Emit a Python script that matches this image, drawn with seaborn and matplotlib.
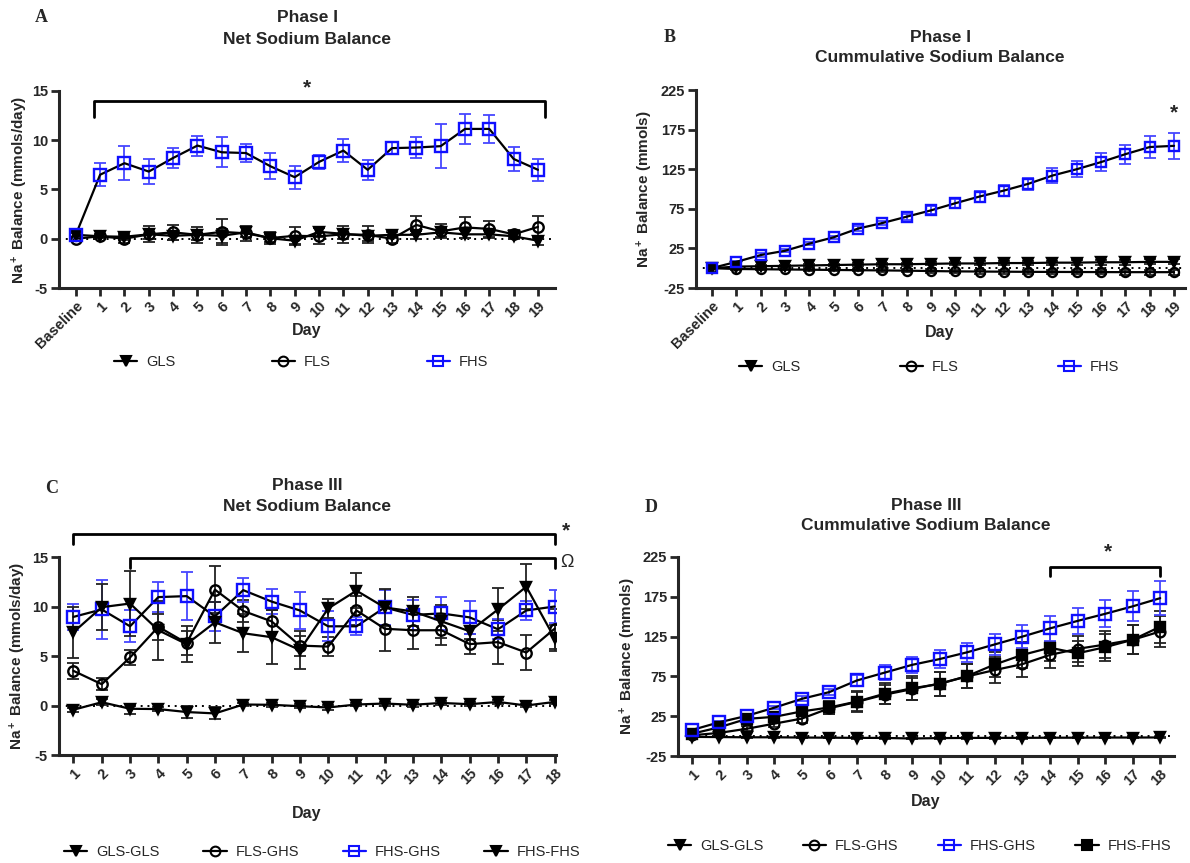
import numpy as np
import pandas as pd
import seaborn as sns
import matplotlib
matplotlib.use("Agg")
import matplotlib.pyplot as plt
from matplotlib.lines import Line2D

# ---------------- data ----------------
labels_p1 = ["Baseline"] + [str(i) for i in range(1, 20)]
labels_p3 = [str(i) for i in range(1, 19)]

# Panel A: Phase I net sodium balance (mmols/day)
a_gls = [0.4, 0.25, 0.2, 0.45, 0.3, 0.4, 0.3, 0.65, 0.05, -0.2, 0.7, 0.5, 0.3, 0.4, 0.4, 0.65, 0.45, 0.45, 0.25, -0.2]
a_gls_err = [0.2, 0.2, 0.3, 0.5, 0.4, 0.5, 0.7, 0.5, 0.4, 0.4, 0.5, 0.5, 0.5, 0.3, 0.4, 0.5, 0.4, 0.4, 0.3, 0.4]
a_fls = [0.0, 0.25, 0.0, 0.45, 0.65, 0.4, 0.7, 0.55, 0.07, 0.3, 0.25, 0.45, 0.4, 0.0, 1.4, 0.75, 1.15, 1.0, 0.45, 1.2]
a_fls_err = [0.2, 0.2, 0.4, 0.8, 0.75, 0.8, 1.3, 0.75, 0.6, 0.85, 0.8, 0.85, 0.85, 0.4, 0.9, 0.7, 1.05, 0.85, 0.4, 1.15]
a_fhs = [0.4, 6.5, 7.67, 6.82, 8.2, 9.46, 8.78, 8.7, 7.36, 6.25, 7.8, 8.95, 7.0, 9.2, 9.26, 9.4, 11.15, 11.15, 8.1, 7.0]
a_fhs_err = [0.3, 1.17, 1.73, 1.25, 1.06, 1.01, 1.52, 0.9, 1.32, 1.15, 0.7, 1.18, 1.0, 0.63, 1.1, 2.2, 1.55, 1.45, 1.2, 1.14]

# Panel B: Phase I cumulative sodium balance (mmols)
b_gls = [0, 2, 2.5, 3, 3.5, 4, 4.5, 5, 5, 5.5, 6, 6, 6.5, 6.5, 7, 7, 7.5, 7.5, 8, 8]
b_gls_err = [0.5, 1, 1, 1, 1.5, 1.5, 1.5, 2, 2, 2, 2, 2.5, 2.5, 2.5, 2.5, 3, 3, 3, 3, 3]
b_fls = [0, -1, -1.3, -1.6, -1.9, -2.2, -2.5, -2.8, -3.1, -3.6, -4, -4.2, -4.4, -4.6, -4.7, -4.8, -4.9, -5, -5, -5]
b_fls_err = [0.5, 1, 1, 1, 1.5, 1.5, 1.5, 2, 2, 2, 2, 2.5, 2.5, 2.5, 2.5, 3, 3, 3, 3, 3]
b_fhs = [0.2, 8, 16.6, 22, 31, 39, 50, 57, 65, 73, 82, 90.5, 98, 106.5, 117, 125, 134, 144, 153, 154.5]
b_fhs_err = [0.5, 1, 2, 2, 2, 2, 3, 3, 4, 5, 6, 7, 7, 8, 9, 10, 11, 12, 14, 16]

# Panel C: Phase III net sodium balance (mmols/day)
c_glsgls = [-0.43, 0.33, -0.33, -0.36, -0.66, -0.8, 0.1, 0.07, -0.07, -0.2, 0.1, 0.2, 0.07, 0.26, 0.13, 0.36, 0.0, 0.36]
c_glsgls_err = [0.2, 0.3, 0.5, 0.2, 0.6, 0.6, 0.2, 0.2, 0.2, 0.3, 0.2, 0.2, 0.2, 0.2, 0.2, 0.2, 0.2, 0.2]
c_flsghs = [3.5, 2.15, 4.85, 7.95, 6.3, 11.7, 9.55, 8.5, 6.05, 5.95, 9.6, 7.75, 7.6, 7.6, 6.2, 6.4, 5.35, 7.75]
c_flsghs_err = [0.8, 0.6, 0.8, 1.3, 1.2, 2.4, 1.1, 1.1, 1.0, 1.0, 1.5, 2.2, 1.9, 1.5, 1.0, 2.2, 1.8, 2.0]
c_fhsghs = [8.95, 9.7, 8.0, 10.95, 11.05, 9.0, 11.65, 10.5, 9.6, 8.0, 8.0, 9.9, 9.15, 9.3, 8.9, 7.7, 9.6, 10.0]
c_fhsghs_err = [1.3, 3.0, 1.6, 1.5, 2.4, 1.5, 1.2, 1.3, 1.9, 1.5, 0.9, 1.8, 1.5, 1.7, 1.7, 1.0, 1.0, 1.7]
c_fhsfhs = [7.4, 9.93, 10.3, 7.6, 6.2, 8.4, 7.3, 6.9, 5.6, 9.8, 11.6, 9.9, 9.5, 8.5, 7.5, 9.7, 12.0, 6.8]
c_fhsfhs_err = [2.6, 2.3, 3.3, 3.0, 1.8, 2.1, 1.9, 2.7, 1.9, 1.0, 1.8, 1.9, 1.5, 1.7, 0.8, 2.2, 2.3, 1.3]

# Panel D: Phase III cumulative sodium balance (mmols)
d_glsgls = [-1, -1.2, -1.5, -1.5, -1.8, -2, -2.2, -2.3, -3, -2.5, -2.3, -2.2, -2.2, -2.0, -2.0, -1.8, -1.8, -1.7]
d_glsgls_err = [0.5, 0.5, 0.8, 0.8, 1, 1, 1, 1, 1, 1, 1, 1, 1, 1, 1, 1, 1, 1]
d_flsghs = [1, 4, 9.2, 15.6, 22, 35, 43, 52, 59, 66, 75, 83, 90.4, 102, 109.6, 115, 121, 131.4]
d_flsghs_err = [1, 2, 3, 4, 5, 7, 12, 12, 14, 15, 15, 16, 16, 16, 16, 17, 18, 20]
d_fhsghs = [7.5, 17.3, 25.4, 35.7, 46.8, 55.3, 69.9, 79.7, 89.5, 96.8, 105.3, 115.2, 125, 135.3, 144.7, 153.6, 163, 173.3]
d_fhsghs_err = [1, 2, 2, 2, 3, 4, 7, 9, 10, 11, 12, 13, 14.5, 16, 16, 17, 19, 21]
d_fhsfhs = [2.8, 11, 21.6, 24.2, 31, 36, 43.4, 53.2, 60, 65.6, 75.4, 90, 102, 111, 104, 111.7, 121, 137.4]
d_fhsfhs_err = [1, 2, 3, 4, 5, 8, 13, 13, 15, 15, 15, 16, 16, 17, 16, 17, 18, 20]

# ---------------- style ----------------
sns.set_style("ticks")
plt.rcParams["font.family"] = ["Liberation Sans", "DejaVu Sans"]
plt.rcParams["mathtext.fontset"] = "custom"
plt.rcParams["mathtext.rm"] = "Liberation Sans:bold"
plt.rcParams["mathtext.it"] = "Liberation Sans:bold"
plt.rcParams["mathtext.bf"] = "Liberation Sans:bold"

BLUE = "#1010ff"
EBLUE = "#4646ff"
W, H = 1190, 863
fig = plt.figure(figsize=(W / 100, H / 100), dpi=100)


def px_axes(l, t, r, b):
    return fig.add_axes([l / W, 1 - b / H, (r - l) / W, (b - t) / H])


def ftext(x, y, s, **kw):
    fig.text(x / W, 1 - y / H, s, **kw)


def series(ax, x, y, err, marker, filled, color, ms, ecolor):
    ax.errorbar(x, y, yerr=err, fmt="none", ecolor=ecolor, elinewidth=1.3,
                capsize=4, capthick=1.3, zorder=2)
    df = pd.DataFrame({"x": x, "y": y})
    sns.lineplot(data=df, x="x", y="y", ax=ax, color="black", lw=1.6,
                 marker=marker, markersize=ms,
                 markerfacecolor=color if filled else "none",
                 markeredgecolor=color, markeredgewidth=1.7,
                 errorbar=None, legend=False, zorder=3)


def style_axes(ax, xticks, xlabels, yticks, xlim, ylim):
    ax.set_xlim(*xlim)
    ax.set_ylim(*ylim)
    ax.set_xticks(xticks)
    ax.set_xticklabels(xlabels)
    ax.set_yticks(yticks)
    ax.set_yticklabels([str(v) for v in yticks])
    for s in ["top", "right"]:
        ax.spines[s].set_visible(False)
    for s in ["left", "bottom"]:
        ax.spines[s].set_linewidth(2.2)
    ax.tick_params(width=2, length=6, labelsize=10.5, pad=2)
    for lab in ax.get_xticklabels():
        lab.set_rotation(45)
        lab.set_ha("right")
        lab.set_rotation_mode("anchor")
        lab.set_fontweight("bold")
    for lab in ax.get_yticklabels():
        lab.set_fontweight("bold")
    ax.set_xlabel("")
    ax.set_ylabel("")
    ax.axhline(0, color="black", ls=(0, (1, 2.5)), lw=1.4, zorder=1)


def legend(handles, labels, x, y, cs):
    fig.legend(handles, labels, loc="center left", bbox_to_anchor=(x / W, 1 - y / H),
               ncol=len(labels), frameon=False, borderpad=0, borderaxespad=0,
               handlelength=1.6, handletextpad=0.6, columnspacing=cs,
               prop={"size": 10.5})


def h(marker, filled, color, ms, lcolor="black"):
    return Line2D([0], [0], color=lcolor, lw=1.6, marker=marker, markersize=ms,
                  markerfacecolor=color if filled else "none",
                  markeredgecolor=color, markeredgewidth=1.5)


TB = dict(fontsize=12.5, fontweight="bold", ha="center", va="center")
LET = dict(fontsize=13, fontweight="bold", family=["Liberation Serif", "DejaVu Serif"],
           ha="center", va="center")
YL = dict(fontsize=11, fontweight="bold", rotation=90, ha="center", va="center")
XL = dict(fontsize=11.5, fontweight="bold", ha="center", va="center")

x1 = np.arange(20)
x3 = np.arange(1, 19)

# ---------------- Panel A ----------------
axA = px_axes(59, 91, 555, 288)
series(axA, x1, a_gls, a_gls_err, "v", True, "black", 7.5, "#222222")
series(axA, x1, a_fls, a_fls_err, "o", False, "black", 7.5, "#222222")
series(axA, x1, a_fhs, a_fhs_err, "s", False, BLUE, 8.5, EBLUE)
style_axes(axA, x1, labels_p1, [-5, 0, 5, 10, 15], (-0.69, 19.7), (-5, 15))
axA.plot([0.74, 0.74, 19.29, 19.29], [12.4, 14.0, 14.0, 12.4], color="black", lw=2, clip_on=False)
axA.text(9.5, 15.3, "*", fontsize=15, fontweight="bold", ha="center", va="center")
ftext(41, 18, "A", **LET)
ftext(307, 18, "Phase I", **TB)
ftext(307, 40, "Net Sodium Balance", **TB)
ftext(20, 190, r"Na$^+$ Balance (mmols/day)", **YL)
ftext(307, 330, "Day", **XL)
legend([h("v", True, "black", 7), h("o", False, "black", 7), h("s", False, BLUE, 7, BLUE)],
       ["GLS", "FLS", "FHS"], 114, 362, 6.6)

# ---------------- Panel B ----------------
axB = px_axes(696, 90, 1185, 288)
series(axB, x1, b_gls, b_gls_err, "v", True, "black", 7, "#222222")
series(axB, x1, b_fls, b_fls_err, "o", False, "black", 6.5, "#222222")
series(axB, x1, b_fhs, b_fhs_err, "s", False, BLUE, 7.5, EBLUE)
style_axes(axB, x1, labels_p1, [-25, 25, 75, 125, 175, 225], (-0.66, 19.45), (-25, 225))
axB.text(19, 196, "*", fontsize=15, fontweight="bold", ha="center", va="center")
ftext(670, 38, "B", **LET)
ftext(940, 37, "Phase I", **TB)
ftext(940, 58, "Cummulative Sodium Balance", **TB)
ftext(645, 189, r"Na$^+$ Balance (mmols)", **YL)
ftext(940, 332, "Day", **XL)
legend([h("v", True, "black", 7), h("o", False, "black", 7), h("s", False, BLUE, 7, BLUE)],
       ["GLS", "FLS", "FHS"], 739, 367, 6.8)

# ---------------- Panel C ----------------
axC = px_axes(59, 557, 556, 755)
series(axC, x3, c_glsgls, c_glsgls_err, "v", True, "black", 7, "#222222")
series(axC, x3, c_flsghs, c_flsghs_err, "o", False, "black", 7.5, "#222222")
series(axC, x3, c_fhsghs, c_fhsghs_err, "s", False, BLUE, 8, EBLUE)
series(axC, x3, c_fhsfhs, c_fhsfhs_err, "v", True, "black", 7.5, "#222222")
style_axes(axC, x3, labels_p3, [-5, 0, 5, 10, 15], (0.49, 18.05), (-5, 15))
axC.plot([1, 1, 18, 18], [16.3, 17.3, 17.3, 16.3], color="black", lw=2, clip_on=False)
axC.plot([3, 3, 18, 18], [13.9, 14.9, 14.9, 13.9], color="black", lw=2, clip_on=False)
axC.text(18.4, 17.6, "*", fontsize=15, fontweight="bold", ha="center", va="center")
axC.text(18.45, 14.4, "Ω", fontsize=13, ha="center", va="center")
ftext(52, 488, "C", **LET)
ftext(307, 485, "Phase III", **TB)
ftext(307, 506, "Net Sodium Balance", **TB)
ftext(18, 656, r"Na$^+$ Balance (mmols/day)", **YL)
ftext(307, 813, "Day", **XL)
legend([h("v", True, "black", 7), h("o", False, "black", 7), h("s", False, BLUE, 7, BLUE),
        h("v", True, "black", 7)],
       ["GLS-GLS", "FLS-GHS", "FHS-GHS", "FHS-FHS"], 64, 852, 3.0)

# ---------------- Panel D ----------------
axD = px_axes(678, 557, 1174, 756)
series(axD, x3, d_glsgls, d_glsgls_err, "v", True, "black", 7, "#222222")
series(axD, x3, d_flsghs, d_flsghs_err, "o", False, "black", 7, "#222222")
series(axD, x3, d_fhsfhs, d_fhsfhs_err, "s", True, "black", 7, "#222222")
series(axD, x3, d_fhsghs, d_fhsghs_err, "s", False, BLUE, 8, EBLUE)
style_axes(axD, x3, labels_p3, [-25, 25, 75, 125, 175, 225], (0.51, 18.5), (-25, 225))
axD.plot([14, 14, 18, 18], [201, 212.5, 212.5, 201], color="black", lw=2, clip_on=False)
axD.text(16.1, 231, "*", fontsize=15, fontweight="bold", ha="center", va="center")
ftext(651, 507, "D", **LET)
ftext(926, 505, "Phase III", **TB)
ftext(926, 525, "Cummulative Sodium Balance", **TB)
ftext(628, 656, r"Na$^+$ Balance (mmols)", **YL)
ftext(926, 801, "Day", **XL)
legend([h("v", True, "black", 7), h("o", False, "black", 7), h("s", False, BLUE, 7, BLUE),
        h("s", True, "black", 7)],
       ["GLS-GLS", "FLS-GHS", "FHS-GHS", "FHS-FHS"], 668, 846, 2.7)

fig.savefig("out.png", dpi=100)
